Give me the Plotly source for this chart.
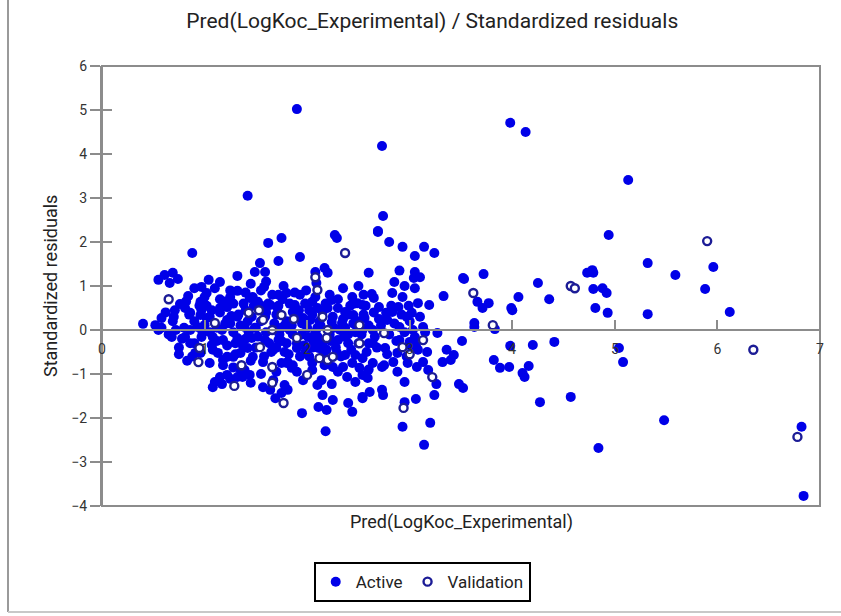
import plotly.graph_objects as go

# ---- data ----
active_x = [1.90, 1.42, 2.73, 3.98, 4.13, 5.13, 4.94, 5.32, 5.59, 5.96, 5.88, 6.12, 5.32, 4.93, 4.81, 4.79,
            4.88, 4.92, 4.73, 4.78, 4.79, 5.04, 5.08, 4.57, 5.48, 4.84, 6.82, 6.84,
            3.52, 3.72, 3.66, 3.71, 3.77, 3.63, 3.63, 3.83, 3.99, 4.00, 4.06, 4.25, 4.36, 3.51, 3.98, 4.20, 4.41,
            3.82, 3.88, 3.97, 4.16, 4.10, 4.12, 3.48, 3.52, 4.27, 3.33, 3.27, 3.36, 3.43, 3.40, 3.32, 3.20, 3.14,
            2.93, 2.95, 3.06, 3.24, 3.26, 3.18, 2.95, 2.88,
            2.69, 2.80, 2.93, 3.14, 3.24, 3.05, 3.05, 3.04, 2.85, 3.53, 2.63, 2.65, 2.83, 2.93, 2.54, 2.70, 2.77,
            2.83, 2.89, 2.99, 3.08, 3.19, 3.02, 2.56, 2.78, 2.90, 3.03, 3.13, 3.15, 2.54, 2.64, 2.90, 3.00, 3.05,
            2.64, 2.76, 3.02, 3.08, 2.88, 2.54, 2.64, 2.73, 2.75, 2.84, 2.98, 3.07, 3.13, 2.54, 2.59, 2.54, 2.61,
            2.73, 2.74, 2.74, 2.69,
            1.62, 1.75, 2.27, 2.29, 1.72, 1.93, 1.54, 1.49, 1.59, 2.08, 2.17, 2.20, 2.09, 1.58, 1.77, 1.80, 1.72,
            1.93, 2.22, 2.24, 2.44, 2.49, 1.44, 1.52, 1.64, 1.71, 1.88, 1.86, 2.05, 2.10, 2.15, 2.30, 2.37, 2.45,
            1.59, 1.46, 1.96, 2.03, 2.24, 2.34, 1.39, 1.49, 1.75, 1.83, 2.10, 2.37, 2.47, 1.46, 1.59, 1.72, 1.80,
            2.01, 2.06, 2.30, 2.40, 1.42, 1.67, 1.78, 1.98, 1.90, 2.11, 2.19, 2.29, 2.37, 2.47, 1.47, 1.57, 1.75,
            1.86, 1.39, 1.44, 1.81, 1.85, 2.05, 2.05, 2.17, 2.25, 2.35, 2.44, 2.51, 1.96, 2.14, 2.24, 2.39, 2.47,
            1.67, 1.78, 1.64, 1.75, 1.81, 1.69, 2.15, 2.25, 2.11, 2.19, 2.40, 2.44, 2.54, 1.95, 2.18, 1.57,
            0.88, 0.55, 0.61, 0.69, 0.66, 0.74, 1.04, 1.15, 1.32, 0.97, 1.02, 0.84, 1.25, 1.32, 0.76, 0.71, 0.81,
            0.96, 0.97, 1.07, 1.15, 1.22, 0.86, 0.58, 0.69, 0.40, 0.52, 0.58, 0.55, 0.96, 1.02, 1.22, 1.32, 0.93,
            0.86, 1.00, 1.17, 1.28, 0.68, 0.81, 0.86, 0.97, 1.08, 1.07, 1.18, 1.32, 1.37, 0.91, 0.96, 1.13, 1.22,
            1.28, 1.35, 0.83, 1.05, 1.18, 1.32, 1.15, 1.22, 1.25, 1.10, 1.08, 1.17, 1.37,
            1.12, 1.20, 1.26, 1.30, 1.35, 1.40, 1.43, 1.48, 1.50, 1.55, 1.60, 1.62, 1.65, 1.68, 1.70, 1.73, 1.76,
            1.80, 1.82, 1.85, 1.88, 1.90, 1.92, 1.95, 1.98, 2.00, 2.02, 2.05, 2.08, 2.12, 2.15, 2.18, 2.22, 2.25,
            2.28, 2.32, 2.35, 2.40, 2.42, 2.45, 2.50, 2.55, 2.58, 2.60, 2.66, 2.70, 2.80, 2.85, 2.95, 2.97, 1.05,
            0.90, 0.80, 0.75, 0.70, 1.15, 1.25, 1.40, 1.55, 1.60, 1.45, 1.70, 1.90, 2.10, 2.30, 2.60, 2.35, 2.50,
            2.60, 2.55, 2.95, 3.05, 1.28, 1.45, 1.55,
            0.62, 0.72, 0.78, 0.85, 0.90, 0.95, 0.98, 0.65, 0.82, 0.90, 1.00, 0.88, 0.75,
            1.02, 1.05, 1.08, 1.10, 1.12, 1.15, 1.18, 1.20, 1.22, 1.25, 1.28, 1.30, 1.33, 1.35, 1.38, 1.40, 1.42,
            1.45, 1.47, 1.50,
            1.52, 1.55, 1.58, 1.60, 1.63, 1.66, 1.70, 1.72, 1.75, 1.78, 1.80, 1.83, 1.86, 1.90, 1.93, 1.95, 1.97, 1.99,
            2.02, 2.05, 2.08, 2.10, 2.13, 2.16, 2.20, 2.23, 2.26, 2.30, 2.33, 2.36, 2.40, 2.43, 2.46, 2.50, 2.53,
            2.57, 2.60,
            2.65, 2.68, 2.72, 2.78, 2.82, 2.87, 2.92, 2.97, 3.00, 3.06, 3.10, 3.17, 3.10, 2.90]
active_y = [5.02, 3.05, 4.18, 4.71, 4.50, 3.41, 2.16, 1.52, 1.25, 1.43, 0.93, 0.41, 0.36, 0.39, 0.50, 0.93,
            0.95, 0.84, 1.30, 1.36, 1.30, -0.41, -0.73, -1.52, -2.05, -2.68, -2.20, -3.77,
            1.18, 1.27, 0.64, 0.50, 0.61, 0.16, 0.07, 0.02, 0.50, 0.45, 0.75, 1.07, 0.70, -0.25, -0.36, -0.34, -0.27,
            -0.68, -0.86, -0.84, -0.82, -0.98, -1.07, -1.23, -1.32, -1.64, 0.77, -0.07, -0.45, -0.57, -0.68, -0.73, -2.11, -2.61,
            -2.20, -1.64, -1.57, -1.48, -1.23, -0.91, -1.18, -0.95,
            2.23, 2.00, 1.89, 1.89, 1.75, 1.68, 1.32, 1.18, 1.09, 1.16, 0.82, 0.73, 0.84, 0.75, 0.57, 0.52, 0.39,
            0.41, 0.52, 0.55, 0.61, 0.57, 0.39, 0.27, 0.23, 0.07, 0.00, 0.07, -0.05, 0.00, 0.00, -0.23, -0.27, -0.16,
            -0.30, -0.41, -0.39, -0.45, -0.52, -0.64, -0.75, -0.84, -0.80, -0.73, -0.75, -0.84, -0.73, -1.02, -1.09, -1.55, -1.41,
            -1.36, -1.48, 2.59, 2.25,
            1.98, 2.09, 2.16, 2.09, 1.57, 1.66, 1.52, 1.32, 1.32, 1.32, 1.41, 1.30, 1.07, 0.98, 1.00, 0.84, 0.80,
            0.80, 0.80, 0.68, 0.75, 0.61, 0.73, 0.64, 0.57, 0.50, 0.57, 0.41, 0.64, 0.50, 0.41, 0.50, 0.41, 0.34,
            0.30, 0.30, 0.27, 0.23, 0.18, 0.16, 0.07, 0.05, 0.05, 0.00, 0.05, 0.05, -0.05, -0.18, -0.23, -0.23, -0.30,
            -0.16, -0.27, -0.23, -0.30, -0.41, -0.45, -0.50, -0.52, -0.41, -0.41, -0.45, -0.52, -0.57, -0.57, -0.61, -0.73, -0.75,
            -0.80, -0.91, -1.02, -0.73, -0.86, -0.75, -0.91, -0.80, -0.84, -0.84, -0.75, -0.86, -1.14, -1.14, -1.23, -1.07, -1.18,
            -1.14, -1.25, -1.36, -1.43, -1.36, -1.55, -1.48, -1.59, -1.75, -1.82, -1.66, -1.86, -1.52, -1.89, -2.30, -1.30,
            1.75, 1.14, 1.25, 1.30, 1.07, 1.16, 1.14, 1.09, 1.23, 0.98, 0.84, 0.77, 0.75, 0.89, 0.59, 0.45, 0.50,
            0.64, 0.45, 0.45, 0.50, 0.52, 0.39, 0.27, 0.20, 0.14, 0.11, 0.05, 0.00, 0.34, 0.27, 0.23, 0.30, 0.07,
            0.00, 0.11, 0.00, -0.05, -0.16, -0.16, -0.30, -0.16, -0.16, -0.34, -0.23, -0.18, -0.34, -0.52, -0.52, -0.52, -0.61,
            -0.61, -0.52, -0.70, -0.75, -0.68, -1.07, -1.07, -1.02, -1.11, -1.18, -1.30, -1.23, -1.07,
            0.05, 0.14, 0.32, -0.30, 0.10, 0.45, -0.05, 0.55, -0.40, 0.20, -0.05, 0.60, -0.50, 0.15, 0.35, -0.10, 0.70,
            0.20, -0.55, 0.10, 0.85, -0.30, 0.45, -0.10, 0.60, 0.05, -0.60, 0.35, -0.05, 0.20, -0.30, 0.60, -0.10, 0.30,
            -0.40, 0.00, 0.25, -0.10, 0.55, 0.15, -0.30, 0.35, -0.50, 0.10, -0.15, 0.25, -0.10, 0.15, -0.05, 0.30, -0.05,
            0.20, 0.05, -0.40, 0.30, 0.70, 0.90, 0.85, 0.90, 1.10, 1.05, -0.95, -0.95, -1.25, -0.95, -0.90, 0.95, 1.00,
            1.30, 0.80, 1.00, 0.95, -0.85, -1.20, -1.00,
            0.40, 0.00, -0.20, 0.35, -0.30, 0.55, -0.05, -0.10, 0.65, 0.95, 0.75, -0.60, -0.55,
            0.55, 0.30, -0.45, 0.95, -0.25, 0.40, -0.80, 0.65, -0.35, 0.15, 0.60, -0.55, 0.35, -0.90, 0.60, -0.20, 0.20,
            -0.70, 0.75, 0.05,
            -0.15, 0.55, -0.60, 0.40, -0.30, 0.80, -0.40, 0.55, -0.25, 0.10, -0.75, 0.60, -0.10, 0.30, -0.60, 0.15, -0.35, 0.90,
            0.45, -0.40, 0.75, -0.15, 0.10, -0.55, 0.50, -0.25, 0.05, 0.70, -0.60, -0.15, 0.35, -0.45, 0.60, 0.20, -0.10,
            0.55, -0.30,
            0.40, -0.40, 0.10, -0.55, 0.55, -0.25, 0.35, -0.60, 0.20, -0.35, 0.30, -0.50, 1.20, 1.35]

valid_x = [0.65, 1.10, 0.95, 0.94, 1.36, 1.29, 1.53, 1.75, 1.87, 1.66, 2.20, 1.90, 2.19, 1.54, 2.12, 2.20,
           2.25, 1.66, 2.00, 1.77, 2.08, 2.10, 2.15, 2.51, 2.37, 2.75, 3.13, 2.51, 2.93, 3.00, 3.22, 2.94,
           3.62, 3.81, 4.57, 4.61, 5.90, 6.35, 6.78, 1.43, 1.57, 1.66]
valid_y = [0.70, 0.16, -0.41, -0.73, -0.80, -1.27, 0.45, 0.34, 0.25, 0.00, 0.00, -0.18, -0.18, -0.39, -0.64, -0.68,
           -0.61, -0.84, -1.02, -1.66, 1.20, 0.91, 0.30, 0.11, 1.75, -0.07, -0.23, -0.30, -0.39, -0.55, -1.07, -1.77,
           0.84, 0.11, 1.00, 0.95, 2.02, -0.45, -2.43, 0.39, 0.23, -1.20]

x_ticks = [0, 1, 2, 3, 4, 5, 6, 7]
y_ticks = [-4, -3, -2, -1, 0, 1, 2, 3, 4, 5, 6]

FONT = "Roboto"
AXIS_GREY = "#8c8c8c"

fig = go.Figure()
fig.add_trace(go.Scatter(
    x=active_x, y=active_y, mode="markers", name="Active",
    marker=dict(symbol="circle", size=10, color="#0000E8", line=dict(width=0)),
))
fig.add_trace(go.Scatter(
    x=valid_x, y=valid_y, mode="markers", name="Validation",
    marker=dict(symbol="circle", size=8, color="white", line=dict(width=2.4, color="#1c1c96")),
))
# invisible trace on the overlay axis so the crossing ticks are drawn
fig.add_trace(go.Scatter(x=[0], y=[0], xaxis="x", yaxis="y2", mode="markers",
                         marker=dict(opacity=0), showlegend=False, hoverinfo="skip"))

fig.update_layout(
    width=841, height=616,
    margin=dict(l=102, r=21, t=66, b=110),
    paper_bgcolor="white", plot_bgcolor="white",
    font=dict(family=FONT, color="#222222"),
    title=dict(text="Pred(LogKoc_Experimental) / Standardized residuals",
               x=0.514, xanchor="center", y=0.966, yanchor="middle",
               font=dict(family=FONT, size=21, color="#222222")),
    xaxis=dict(range=[0, 7], tickvals=x_ticks, showgrid=False, zeroline=False,
               showline=True, linecolor=AXIS_GREY, linewidth=2,
               anchor="free", position=0.4,
               ticks="inside", ticklen=9, tickwidth=2, tickcolor=AXIS_GREY,
               tickfont=dict(size=14, color="#333333"), ticklabelstandoff=6),
    yaxis=dict(range=[-4, 6], tickvals=y_ticks, showgrid=False, zeroline=False,
               showline=True, linecolor=AXIS_GREY, linewidth=2,
               ticks="outside", ticklen=10, tickwidth=2, tickcolor=AXIS_GREY,
               tickfont=dict(size=14, color="#333333")),
    yaxis2=dict(range=[-4, 6], tickvals=y_ticks, overlaying="y", anchor="x",
                side="left", showgrid=False, zeroline=False, showline=False,
                ticks="inside", ticklen=10, tickwidth=2, tickcolor=AXIS_GREY,
                showticklabels=False),
    legend=dict(orientation="h", x=0.446, xanchor="center", y=-0.173, yanchor="middle",
                bordercolor="black", borderwidth=2, bgcolor="white",
                font=dict(family=FONT, size=17, color="#222222"),
                itemwidth=30, tracegroupgap=0),
    showlegend=True,
)

# plot frame (top, right, bottom)
fig.add_shape(type="rect", xref="x domain", yref="y domain", x0=0, x1=1, y0=0, y1=1,
              line=dict(color=AXIS_GREY, width=2), fillcolor="rgba(0,0,0,0)", layer="below")
# outer frame lines on the left and bottom of the picture
fig.add_shape(type="line", xref="paper", yref="paper",
              x0=-94 / 718, x1=-94 / 718, y0=-106 / 440, y1=1.16,
              line=dict(color="#9a9a9a", width=2))
fig.add_shape(type="line", xref="paper", yref="paper",
              x0=-94 / 718, x1=1.1, y0=-106 / 440, y1=-106 / 440,
              line=dict(color="#c8c8c8", width=2))

fig.add_annotation(text="Standardized residuals", xref="paper", yref="paper",
                   x=-52 / 718, y=0.5, textangle=-90, showarrow=False,
                   xanchor="center", yanchor="middle",
                   font=dict(family=FONT, size=18, color="#222222"))
fig.add_annotation(text="Pred(LogKoc_Experimental)", xref="paper", yref="paper",
                   x=0.5, y=-16 / 440, showarrow=False, xanchor="center", yanchor="middle",
                   font=dict(family=FONT, size=18, color="#222222"))

fig.write_html("out.html")
